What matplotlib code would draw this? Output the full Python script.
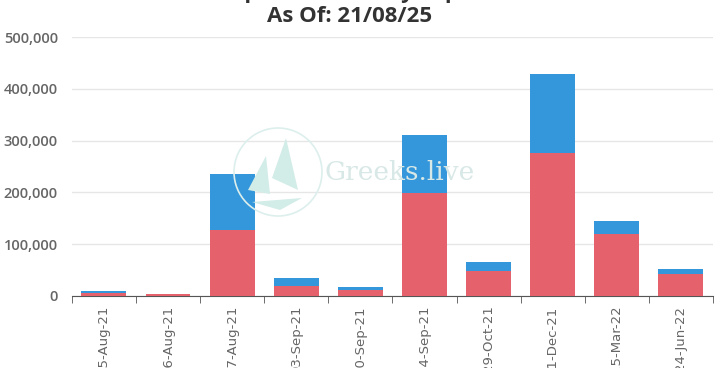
import matplotlib.pyplot as plt
import numpy as np
from matplotlib.patches import Circle, Polygon
from matplotlib.ticker import FuncFormatter, FixedLocator

# Expiry dates and open interest per expiry
expiries = ["25-Aug-21", "26-Aug-21", "27-Aug-21", "03-Sep-21", "10-Sep-21",
            "24-Sep-21", "29-Oct-21", "31-Dec-21", "25-Mar-22", "24-Jun-22"]
red_values = [5000, 3000, 128000, 18300, 10600,
              199400, 47200, 276500, 119800, 42800]
blue_values = [3500, 1400, 108000, 15400, 5800,
               111600, 17300, 152200, 24300, 9600]

title_top = "Total Open Interest By Expiration"
title_sub = "As Of: 21/08/25"

RED = "#e5616b"
BLUE = "#3497db"


def px(xp, yp):
    """Pixel position (from top-left) to figure fraction."""
    return xp / 726, 1 - yp / 368


def main():
    fig = plt.figure(figsize=(7.26, 3.68), dpi=100)
    ax = fig.add_axes([0.099, 0.196, 0.883, 0.703])

    x = np.arange(len(expiries))
    ax.bar(x, red_values, width=0.7, color=RED, zorder=3)
    ax.bar(x, blue_values, width=0.7, bottom=red_values, color=BLUE, zorder=3)

    ax.set_xlim(-0.5, len(expiries) - 0.5)
    ax.set_ylim(0, 500000)
    ax.set_yticks(np.arange(0, 500001, 100000))
    ax.yaxis.set_major_formatter(FuncFormatter(lambda v, _: f"{int(v):,}"))
    ax.grid(axis="y", color="#e6e6e6", linewidth=1, zorder=0)

    ax.set_xticks(x)
    ax.set_xticklabels(expiries, rotation=90, fontsize=9.5, color="#666666",
                       family="DejaVu Sans")
    ax.xaxis.set_minor_locator(FixedLocator(np.arange(-0.5, len(expiries), 1)))
    ax.tick_params(axis="x", which="major", length=0, pad=7)
    ax.tick_params(axis="x", which="minor", length=5, color="#555555")
    ax.tick_params(axis="y", length=0, pad=10)
    for lbl in ax.get_yticklabels():
        lbl.set_fontfamily("Open Sans")
        lbl.set_fontsize(10.5)
        lbl.set_fontweight("semibold")
        lbl.set_color("#666666")

    for side in ["top", "right", "left"]:
        ax.spines[side].set_visible(False)
    ax.spines["bottom"].set_color("#555555")

    # faint watermark behind the bars (drawn in inches so the circle stays round)
    wm = fig.dpi_scale_trans
    fig.patches.append(Circle((2.78, 1.96), 0.44, transform=wm, fill=False,
                              edgecolor="#dcefec", linewidth=1.2, zorder=1,
                              figure=fig))
    fig.patches.append(Polygon([(2.86, 2.30), (2.98, 1.78), (2.72, 1.90)],
                               closed=True, transform=wm,
                               facecolor="#d2ece7", edgecolor="none",
                               zorder=1, figure=fig))
    fig.patches.append(Polygon([(2.66, 2.12), (2.70, 1.74), (2.48, 1.78)],
                               closed=True, transform=wm,
                               facecolor="#d2ece7", edgecolor="none",
                               zorder=1, figure=fig))
    fig.patches.append(Polygon([(2.52, 1.66), (3.02, 1.70), (2.80, 1.58)],
                               closed=True, transform=wm,
                               facecolor="#d2ece7", edgecolor="none",
                               zorder=1, figure=fig))
    fig.text(*px(325, 172), "Greeks.live", fontsize=19,
             family="DejaVu Serif", color="#d8e8e6", va="center", zorder=1)

    fig.text(*px(350, -2), title_top, ha="center", va="baseline",
             fontsize=16, fontweight="bold", family="Open Sans",
             color="#333333")
    fig.text(*px(350, 22), title_sub, ha="center", va="baseline",
             fontsize=16, fontweight="bold", family="Open Sans",
             color="#333333")

    fig.savefig("out.png", dpi=100)
    plt.close(fig)


if __name__ == "__main__":
    main()
